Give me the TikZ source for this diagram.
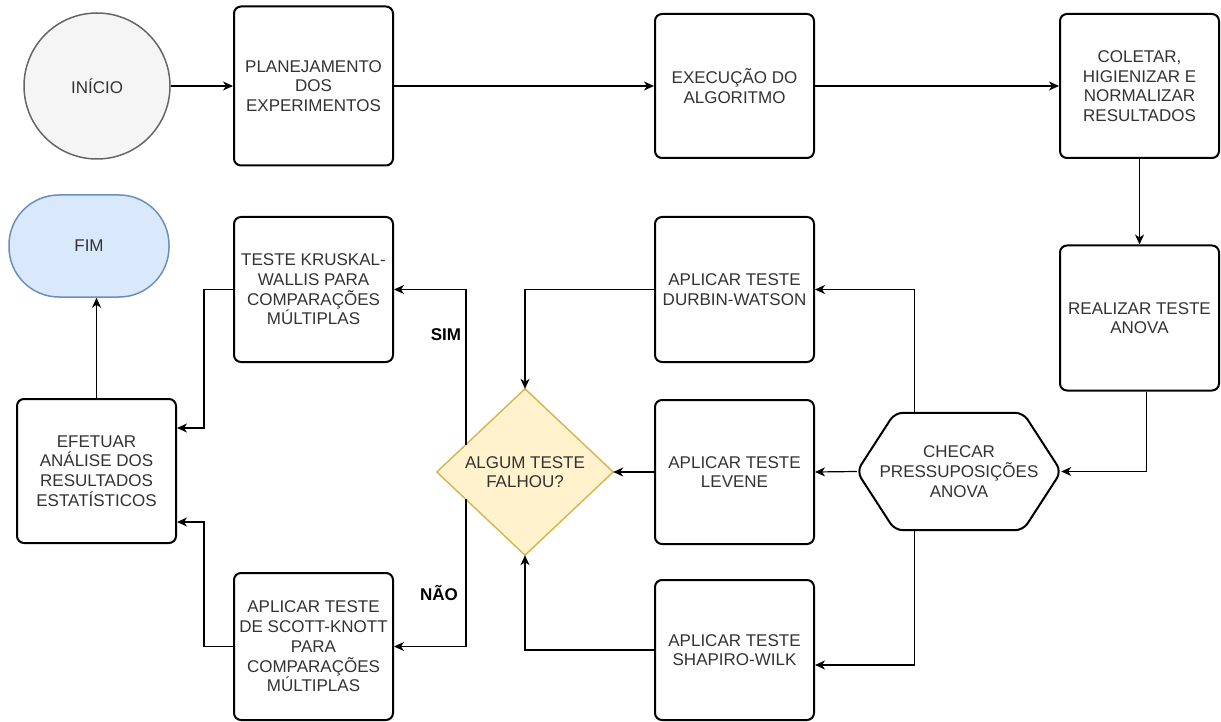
\documentclass[tikz,border=0pt]{standalone}
\usepackage{fontspec}
\setmainfont{Liberation Sans}
\usetikzlibrary{arrows.meta,calc,backgrounds}
\definecolor{txt}{HTML}{333333}
\definecolor{startfill}{HTML}{F5F5F5}
\definecolor{startedge}{HTML}{666666}
\definecolor{endfill}{HTML}{DAE8FC}
\definecolor{endedge}{HTML}{6C8EBF}
\definecolor{diafill}{HTML}{FFF2CC}
\definecolor{diaedge}{HTML}{D6B656}
\begin{document}
\begin{tikzpicture}[x=1pt,y=-1pt,
  every node/.style={font=\fontsize{17}{19.7}\selectfont, text=txt, align=center},
  box/.style={draw=black, line width=2pt, rounded corners=7pt, fill=white, minimum width=159pt, inner sep=2pt},
  arr/.style={draw=black, line width=1.2pt, -{Stealth[length=10pt,width=9pt,inset=3pt]}},
  lbl/.style={font=\bfseries\fontsize{17}{19.7}\selectfont, text=black}
]
\useasboundingbox (0,0) rectangle (1221,722);

% top row
\node[circle, draw=startedge, fill=startfill, line width=1.5pt, minimum size=146pt, inner sep=0] (inicio) at (97,86) {INÍCIO};
\node[box, minimum height=159pt] (plan) at (313.5,86) {PLANEJAMENTO\\DOS\\EXPERIMENTOS};
\node[box, minimum height=144pt] (exec) at (734.5,86) {EXECUÇÃO DO\\ALGORITMO};
\node[box, minimum height=144pt] (coletar) at (1139.5,86) {COLETAR,\\HIGIENIZAR E\\NORMALIZAR\\RESULTADOS};

% right column
\node[box, minimum height=145pt] (realizar) at (1139.5,318) {REALIZAR TESTE\\ANOVA};
\node[minimum width=204pt, minimum height=117pt, inner sep=0] (hex) at (959,471.5) {CHECAR\\PRESSUPOSIÇÕES\\ANOVA};

% tests column
\node[box, minimum height=145pt] (durbin) at (734.5,289.5) {APLICAR TESTE\\DURBIN-WATSON};
\node[box, minimum height=144pt] (levene) at (734.5,472) {APLICAR TESTE\\LEVENE};
\node[box, minimum height=140pt] (shapiro) at (734.5,650) {APLICAR TESTE\\SHAPIRO-WILK};

% decision
\node[minimum width=176pt, minimum height=166pt, inner sep=0] (dia) at (525,472) {ALGUM TESTE\\FALHOU?};

% left column
\node[box, minimum height=145pt] (kruskal) at (313.5,289.5) {TESTE KRUSKAL-\\WALLIS PARA\\COMPARAÇÕES\\MÚLTIPLAS};
\node[box, minimum height=147pt] (scott) at (313.5,646.5) {APLICAR TESTE\\DE SCOTT-KNOTT\\PARA\\COMPARAÇÕES\\MÚLTIPLAS};
\node[box, minimum height=144pt] (efetuar) at (96.5,471) {EFETUAR\\ANÁLISE DOS\\RESULTADOS\\ESTATÍSTICOS};
\node[draw=endedge, fill=endfill, line width=1.5pt, rounded corners=50pt, minimum width=160pt, minimum height=102pt, inner sep=0] (fim) at (89,246) {FIM};

\begin{scope}[on background layer]
  \draw[line width=2pt, fill=white, rounded corners=8pt]
    (hex.north) -- ($(hex.north east)+(-38,0)$) -- (hex.east) -- ($(hex.south east)+(-38,0)$)
    -- ($(hex.south west)+(38,0)$) -- (hex.west) -- ($(hex.north west)+(38,0)$) -- cycle;
  \draw[draw=diaedge, fill=diafill, line width=1.5pt]
    (dia.north) -- (dia.east) -- (dia.south) -- (dia.west) -- cycle;
\end{scope}

\coordinate (hextop) at ($(hex.north west)!0.284!(hex.north east)$);
\coordinate (hexbot) at ($(hex.south west)!0.284!(hex.south east)$);
\coordinate (simstart) at ($(dia.west)!0.33!(dia.north)$);
\coordinate (naostart) at ($(dia.west)!0.33!(dia.south)$);

% connectors
\draw[arr] (inicio) -- (plan);
\draw[arr] (plan.east) -- (exec.west);
\draw[arr] (exec.east) -- (coletar.west);
\draw[arr] (coletar) -- (realizar);
\draw[arr] ([xshift=7pt]realizar.south) |- (hex.east);
\draw[arr] (hextop) |- (durbin.east);
\draw[arr] (hex.west) -- (levene.east);
\draw[arr] (hexbot) |- ([yshift=-15pt]shapiro.east);
\draw[arr] (durbin.west) -| (dia.north);
\draw[arr] (levene.west) -- (dia.east);
\draw[arr] (shapiro.west) -| (dia.south);
\draw[arr] (simstart) |- (kruskal.east);
\draw[arr] (naostart) |- (scott.east);
\draw[arr] (kruskal.west) -- ++(-29,0) |- ([yshift=43pt]efetuar.east);
\draw[arr] (scott.west) -- ++(-29,0) |- ([yshift=-51pt]efetuar.east);
\draw[arr] (efetuar.north) -- (efetuar.north |- fim.south);

\node[lbl] (sim) at (446,335) {SIM};
\node[lbl] (nao) at (439,593) {NÃO};
\end{tikzpicture}
\end{document}
